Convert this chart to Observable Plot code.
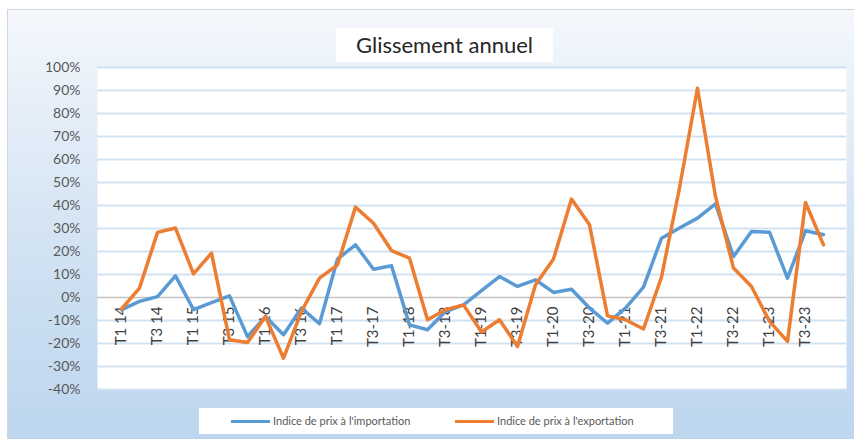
<!DOCTYPE html>
<html>
<head>
<meta charset="utf-8">
<script src="https://cdn.jsdelivr.net/npm/d3@7"></script>
<script src="https://cdn.jsdelivr.net/npm/@observablehq/plot@0.6"></script>
<style>
  html, body { margin: 0; padding: 0; background: #ffffff; }
  #chart { position: relative; width: 854px; height: 439px; overflow: hidden; font-family: Lato, "Open Sans", sans-serif; }
  #bg { position: absolute; left: 7px; top: 9px; right: 0; bottom: 0; border-left: 1px solid #d6d6d6; border-top: 1px solid #d6d6d6;
        background: linear-gradient(180deg, #f5f8fc 0%, #e6eff9 22%, #cfe1f2 60%, #bdd6ee 100%); }
  #chart svg { position: absolute; left: 0; top: 0; }
  #title { position: absolute; left: 336px; top: 28px; width: 217px; height: 34px; background: #ffffff;
           font-size: 22px; color: #262626; text-align: center; line-height: 34px; }
  #legend { position: absolute; left: 199px; top: 408px; width: 474px; height: 26px; background: #ffffff;
            font-size: 11px; color: #595959; }
  .item { position: absolute; top: 0; height: 26px; line-height: 26px; white-space: nowrap; }
  .sw { display: inline-block; width: 39px; height: 3px; vertical-align: middle; margin-right: 3px; position: relative; top: -1px; }
</style>
</head>
<body>
<div id="chart">
  <div id="bg"></div>
  <div id="title">Glissement annuel</div>
  <div id="legend"></div>
</div>
<script>
const quarters = [
  "T1 14","T2 14","T3 14","T4 14",
  "T1 15","T2 15","T3 15","T4 15",
  "T1 16","T2 16","T3 16","T4 16",
  "T1 17","T2 17","T3-17","T4-17",
  "T1-18","T2-18","T3-18","T4-18",
  "T1-19","T2-19","T3-19","T4-19",
  "T1-20","T2-20","T3-20","T4-20",
  "T1-21","T2-21","T3-21","T4-21",
  "T1-22","T2-22","T3-22","T4-22",
  "T1-23","T2-23","T3-23","T4-23"
];
const tickLabels = [
  "T1 14","T3 14","T1 15","T3 15","T1 16","T3 16","T1 17","T3-17","T1-18","T3-18",
  "T1-19","T3-19","T1-20","T3-20","T1-21","T3-21","T1-22","T3-22","T1-23","T3-23"
];
const importIndex = [
  -5.3, -1.7, 0.4, 9.4,
  -5.3, -2.2, 0.7, -17.0,
  -8.3, -16.2, -4.6, -11.4,
  16.7, 22.9, 12.3, 13.8,
  -11.9, -14.0, -6.1, -3.2,
  3.0, 9.1, 4.8, 7.7,
  2.2, 3.6, -4.6, -11.1,
  -4.6, 4.5, 25.8, 30.2,
  34.5, 40.7, 17.8, 28.7,
  28.4, 8.4, 29.0, 27.3
];
const exportIndex = [
  -5.0, 4.1, 28.3, 30.2,
  10.3, 19.3, -18.4, -19.6,
  -8.3, -26.4, -6.0, 8.4,
  14.2, 39.3, 32.3, 20.4,
  17.1, -9.7, -5.3, -3.2,
  -15.0, -9.7, -21.3, 5.5,
  16.7, 42.8, 31.6, -8.0,
  -9.7, -13.7, 8.9, 47.6,
  91.0, 43.9, 12.8, 4.8,
  -10.4, -19.1, 41.3, 22.9
];
const yTicks = [-40, -30, -20, -10, 0, 10, 20, 30, 40, 50, 60, 70, 80, 90, 100];
const seriesNames = ["Indice de prix à l'importation", "Indice de prix à l'exportation"];
const seriesColors = ["#5b9bd5", "#ed7d31"];

const rows = [];
quarters.forEach((q, i) => {
  rows.push({q, v: importIndex[i], s: seriesNames[0]});
});
quarters.forEach((q, i) => {
  rows.push({q, v: exportIndex[i], s: seriesNames[1]});
});

const svg = Plot.plot({
  width: 854,
  height: 439,
  marginLeft: 97,
  marginRight: 8,
  marginTop: 67,
  marginBottom: 50,
  style: {background: "transparent", fontFamily: "Lato, 'Open Sans', sans-serif", overflow: "visible"},
  x: {type: "point", domain: quarters, padding: 0.5, axis: null},
  y: {domain: [-40, 100], label: null},
  color: {domain: seriesNames, range: seriesColors},
  marks: [
    Plot.frame({fill: "white", stroke: "none"}),
    Plot.ruleY(yTicks.filter(d => d !== 0), {stroke: "#d3e2f2", strokeWidth: 2}),
    Plot.ruleY([0], {stroke: "#c4c4c4", strokeWidth: 1.5}),
    Plot.axisY(yTicks, {tickSize: 0, tickPadding: 17, tickFormat: d => d + "%", fontSize: 14, fill: "#595959", label: null}),
    Plot.text(tickLabels, {x: d => d, y: () => 0, rotate: -90, textAnchor: "end", dy: 9, fontSize: 15, fill: "#404040"}),
    Plot.line(rows, {x: "q", y: "v", z: "s", stroke: "s", strokeWidth: 3.5, strokeLinejoin: "round", strokeLinecap: "round"})
  ]
});
document.getElementById("chart").insertBefore(svg, document.getElementById("title"));

const legend = document.getElementById("legend");
const lefts = [32, 256];
seriesNames.forEach((name, i) => {
  const it = document.createElement("div");
  it.className = "item";
  it.style.left = lefts[i] + "px";
  const sw = document.createElement("span");
  sw.className = "sw";
  sw.style.background = seriesColors[i];
  it.appendChild(sw);
  it.appendChild(document.createTextNode(name));
  legend.appendChild(it);
});
</script>
</body>
</html>
